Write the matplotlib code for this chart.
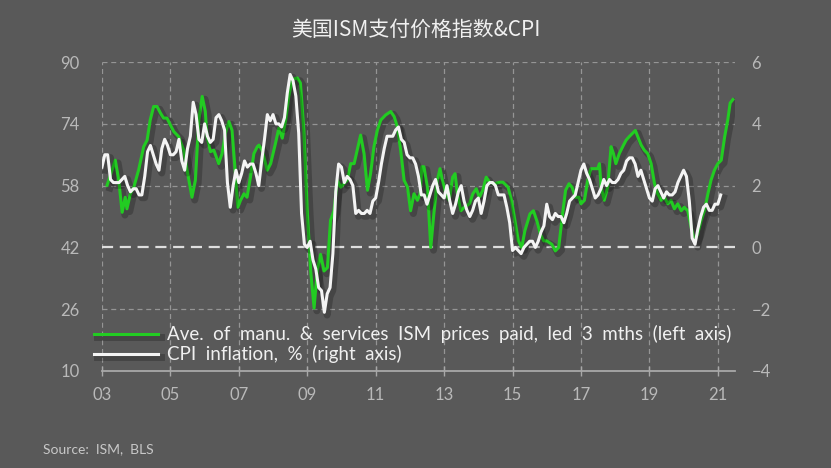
import numpy as np
import matplotlib.pyplot as plt
import matplotlib.patheffects as pe

plt.rcParams['font.family'] = ['Lato', 'Noto Sans CJK SC', 'DejaVu Sans']

# CPI inflation, % y/y, monthly from Jan 2003 (right axis)
cpi_start = 2003
cpi = [2.6, 3.0, 3.0, 2.2, 2.1, 2.1, 2.1, 2.2, 2.3, 2.0, 1.8, 1.9,
       1.9, 1.7, 1.7, 2.3, 3.1, 3.3, 3.0, 2.7, 2.5, 3.2, 3.5, 3.3,
       3.0, 3.0, 3.1, 3.5, 2.8, 2.5, 3.2, 3.6, 4.7, 4.3, 3.5, 3.4,
       4.0, 3.6, 3.4, 3.5, 4.2, 4.3, 4.1, 3.8, 2.1, 1.3, 2.0, 2.5,
       2.1, 2.4, 2.8, 2.6, 2.7, 2.7, 2.4, 2.0, 2.8, 3.5, 4.3, 4.1,
       4.3, 4.0, 4.0, 3.9, 4.2, 5.0, 5.6, 5.4, 4.9, 3.7, 1.1, 0.1,
       0.0, 0.2, -0.4, -0.7, -1.3, -1.4, -2.1, -1.5, -1.3, -0.2, 1.8, 2.7,
       2.6, 2.1, 2.3, 2.2, 2.0, 1.1, 1.2, 1.1, 1.1, 1.2, 1.1, 1.5,
       1.6, 2.1, 2.7, 3.2, 3.6, 3.6, 3.6, 3.8, 3.9, 3.5, 3.4, 3.0,
       2.9, 2.9, 2.7, 2.3, 1.7, 1.7, 1.4, 1.7, 2.0, 2.2, 1.8, 1.7,
       1.6, 2.0, 1.5, 1.1, 1.4, 1.8, 2.0, 1.5, 1.2, 1.0, 1.2, 1.5,
       1.6, 1.1, 1.5, 2.0, 2.1, 2.1, 2.0, 1.7, 1.7, 1.7, 1.3, 0.8,
       -0.1, 0.0, -0.1, -0.2, 0.0, 0.1, 0.2, 0.2, 0.0, 0.2, 0.5, 0.7,
       1.4, 1.0, 0.9, 1.1, 1.0, 1.0, 0.8, 1.1, 1.5, 1.6, 1.7, 2.1,
       2.5, 2.7, 2.4, 2.2, 1.9, 1.6, 1.7, 1.9, 2.2, 2.0, 2.2, 2.1,
       2.1, 2.2, 2.4, 2.5, 2.8, 2.9, 2.9, 2.7, 2.3, 2.5, 2.2, 1.9,
       1.6, 1.5, 1.9, 2.0, 1.8, 1.6, 1.8, 1.7, 1.7, 1.8, 2.1, 2.3,
       2.5, 2.3, 1.5, 0.3, 0.1, 0.6, 1.0, 1.3, 1.4, 1.2, 1.2, 1.4,
       1.4, 1.7]

# ISM prices paid, average of manufacturing & services, led 3 months (left axis)
ism_t = [2003.15, 2003.39, 2003.49, 2003.59, 2003.68, 2003.73, 2003.83, 2003.93,
         2004.07, 2004.22, 2004.32, 2004.41, 2004.51, 2004.61, 2004.71, 2004.80,
         2004.90, 2005.00, 2005.10, 2005.24, 2005.39, 2005.54, 2005.63, 2005.73,
         2005.83, 2005.93, 2006.02, 2006.07, 2006.17, 2006.27, 2006.41, 2006.51,
         2006.61, 2006.71, 2006.80, 2006.90, 2006.97, 2007.05, 2007.15, 2007.24,
         2007.34, 2007.44, 2007.54, 2007.59, 2007.68, 2007.83, 2007.93, 2008.07,
         2008.17, 2008.27, 2008.37, 2008.46, 2008.56, 2008.71, 2008.80, 2008.90,
         2009.00, 2009.10, 2009.20, 2009.29, 2009.39, 2009.49, 2009.59, 2009.68,
         2009.78, 2009.88, 2009.98, 2010.07, 2010.17, 2010.27, 2010.37, 2010.46,
         2010.56, 2010.66, 2010.76, 2010.85, 2010.95, 2011.05, 2011.15, 2011.29,
         2011.44, 2011.54, 2011.63, 2011.73, 2011.83, 2011.93, 2012.02, 2012.12,
         2012.22, 2012.30, 2012.35, 2012.41, 2012.51, 2012.61, 2012.70, 2012.80,
         2012.88, 2012.95, 2013.05, 2013.15, 2013.25, 2013.32, 2013.39, 2013.49,
         2013.59, 2013.74, 2013.84, 2013.94, 2014.03, 2014.13, 2014.23, 2014.33,
         2014.48, 2014.63, 2014.72, 2014.87, 2014.97, 2015.07, 2015.17, 2015.27,
         2015.36, 2015.51, 2015.61, 2015.71, 2015.81, 2015.91, 2016.00, 2016.15,
         2016.25, 2016.35, 2016.45, 2016.55, 2016.65, 2016.74, 2016.84, 2016.94,
         2017.00, 2017.10, 2017.20, 2017.29, 2017.39, 2017.49, 2017.54, 2017.59,
         2017.68, 2017.78, 2017.88, 2017.95, 2018.02, 2018.12, 2018.22, 2018.32,
         2018.41, 2018.51, 2018.59, 2018.66, 2018.76, 2018.85, 2018.95, 2019.05,
         2019.15, 2019.24, 2019.34, 2019.44, 2019.54, 2019.63, 2019.73, 2019.83,
         2019.93, 2020.02, 2020.12, 2020.22, 2020.32, 2020.41, 2020.51, 2020.61,
         2020.71, 2020.80, 2020.90, 2021.00, 2021.10, 2021.20, 2021.29, 2021.36,
         2021.44]
ism_v = [58.1, 64.6, 59.4, 51.1, 55.0, 52.0, 55.9, 57.6,
         62.0, 68.1, 69.8, 75.0, 78.5, 78.5, 76.8, 75.5,
         75.5, 73.7, 72.0, 70.7, 67.2, 59.4, 55.0, 59.4,
         75.0, 81.1, 77.2, 70.7, 66.8, 67.2, 63.7, 66.3,
         71.6, 74.6, 72.4, 61.1, 52.4, 54.2, 55.9, 55.0,
         60.2, 66.3, 68.1, 68.5, 67.2, 62.0, 63.7, 68.9,
         72.9, 70.3, 75.0, 81.1, 85.5, 85.9, 84.6, 72.4,
         51.5, 35.9, 26.3, 35.9, 40.2, 35.9, 36.8, 49.0,
         51.5, 59.4, 57.6, 58.5, 59.4, 63.7, 63.7, 67.2,
         71.1, 66.3, 56.8, 61.1, 68.1, 72.4, 75.0, 76.3,
         77.2, 75.9, 73.3, 67.2, 59.4, 57.6, 51.5, 55.9,
         54.2, 55.9, 62.9, 62.9, 57.6, 42.0, 50.7, 59.4,
         62.4, 59.4, 55.9, 54.2, 60.2, 61.1, 55.9, 51.5,
         52.4, 53.3, 55.9, 57.2, 55.0, 56.8, 60.2, 58.9,
         58.5, 58.9, 58.9, 57.6, 54.2, 48.9, 43.7, 42.0,
         46.3, 50.7, 51.5, 48.9, 45.5, 43.7, 43.7, 42.8,
         41.1, 42.0, 49.8, 56.8, 58.5, 57.6, 55.0, 55.0,
         53.3, 54.2, 59.4, 62.4, 62.4, 62.4, 63.7, 57.6,
         54.2, 57.6, 68.1, 66.3, 63.7, 66.3, 68.1, 69.8,
         70.7, 71.6, 72.3, 70.7, 68.5, 67.2, 66.3, 63.7,
         58.5, 55.9, 54.2, 55.0, 53.3, 54.2, 52.0, 53.3,
         51.5, 52.4, 51.5, 47.2, 43.7, 45.5, 48.9, 51.5,
         55.9, 59.4, 62.0, 63.7, 64.6, 70.7, 75.0, 79.4,
         80.3]

year_ticks = [2003, 2005, 2007, 2009, 2011, 2013, 2015, 2017, 2019, 2021]
year_labels = ['03', '05', '07', '09', '11', '13', '15', '17', '19', '21']
left_ticks = [10, 26, 42, 58, 74, 90]
right_ticks = [-4, -2, 0, 2, 4, 6]

bg = '#595959'
green = '#22cc22'
white = '#f4f4f4'
label_col = '#b9b9b9'

fig = plt.figure(figsize=(8.31, 4.68), dpi=100, facecolor=bg)
ax = fig.add_axes([0.1227, 0.2073, 0.7617, 0.660])
ax.set_facecolor(bg)
ax2 = ax.twinx()

cpi_t = cpi_start + np.arange(len(cpi)) / 12.0

shadow = [pe.SimpleLineShadow(offset=(2, -2), shadow_color='black', alpha=0.22, linewidth=5),
          pe.Normal()]

ln1, = ax.plot(ism_t, ism_v, color=green, lw=2.2, solid_joinstyle='round',
               path_effects=shadow,
               label='Ave.  of  manu.  &  services  ISM  prices  paid,  led  3  mths  (left  axis)')
ln2, = ax2.plot(cpi_t, cpi, color=white, lw=2.2, solid_joinstyle='round',
                path_effects=shadow, label='CPI  inflation,  %  (right  axis)')

ax.set_xlim(2003, 2021.5)
ax.set_ylim(10, 90)
ax2.set_ylim(-4, 6)

# grid
for y in [26, 58, 74, 90]:
    ax.axhline(y, color='#959595', lw=0.9, ls=(0, (4, 3)), zorder=0)
for x in year_ticks:
    ax.axvline(x, color='#959595', lw=0.9, ls=(0, (4, 3)), zorder=0)
ax.axhline(42, color='#dedede', lw=1.6, ls=(0, (5, 3)), zorder=1)

for a in (ax, ax2):
    for s in a.spines.values():
        s.set_visible(False)
ax.spines['bottom'].set_visible(True)
ax.spines['bottom'].set_color('#a8a8a8')
ax.spines['bottom'].set_linewidth(1.3)

ax.set_xticks(year_ticks)
ax.set_xticklabels(year_labels)
ax.tick_params(axis='x', direction='inout', length=7, width=1, color='#a8a8a8',
               colors=label_col, labelsize=12, pad=8)
ax.set_yticks(left_ticks)
ax.tick_params(axis='y', length=0, colors=label_col, labelsize=12, pad=16)
ax2.set_yticks(right_ticks)
ax2.tick_params(axis='y', length=0, colors=label_col, labelsize=12, pad=12)

leg = ax2.legend(handles=[ln1, ln2], loc='center left', bbox_to_anchor=(-0.012, 0.086),
                 frameon=False, fontsize=13.5, handlelength=3.4, handletextpad=0.45,
                 labelspacing=0.1, borderpad=0, borderaxespad=0)
for t in leg.get_texts():
    t.set_color('#f0f0f0')

fig.text(0.5, 0.936, '美国ISM支付价格指数&CPI', ha='center', va='center',
         fontsize=15, color='#f0f0f0', family=['Noto Sans CJK SC', 'DejaVu Sans'])
fig.text(0.052, 0.041, 'Source:  ISM,  BLS', ha='left', va='center',
         fontsize=10, color='#c8c8c8')

fig.savefig('out.png', dpi=100, facecolor=bg)
